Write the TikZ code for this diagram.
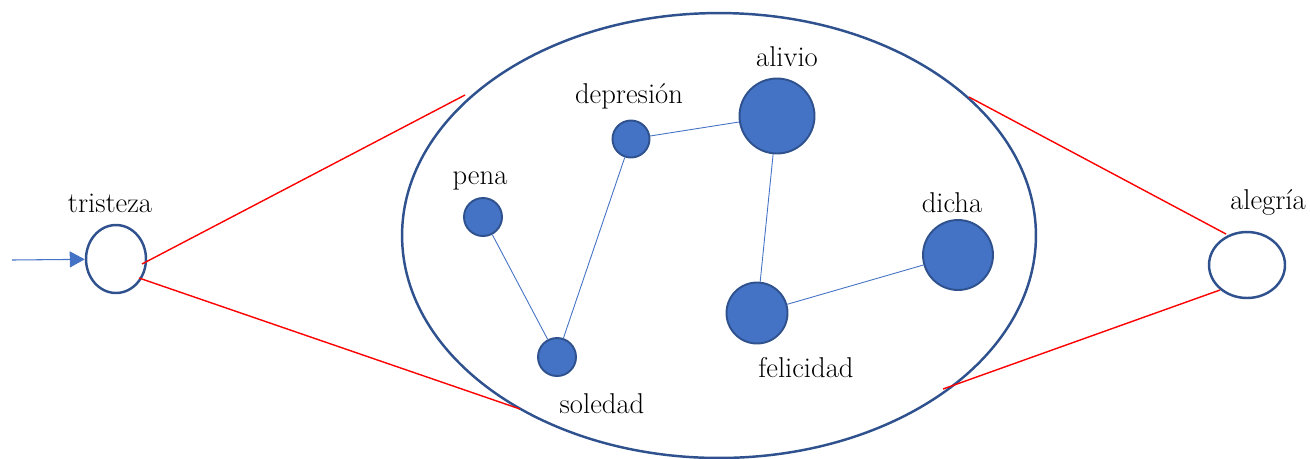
\documentclass[tikz,border=0pt]{standalone}
\usepackage{xcolor}
\usetikzlibrary{shapes.geometric, arrows.meta, positioning}
\definecolor{OfficeBlue}{RGB}{68, 114, 196}
\definecolor{OfficeEdge}{RGB}{47, 82, 143}
\definecolor{LinkRed}{RGB}{255, 0, 0}

\begin{document}
\begin{tikzpicture}[
    x=0.02cm, y=-0.02cm,
    font=\rmfamily\fontsize{16.3}{19}\selectfont,
    state/.style={ellipse, draw=OfficeEdge, line width=1.4pt, fill=white, inner sep=0pt},
    emo/.style={circle, draw=OfficeEdge, line width=1.1pt, fill=OfficeBlue, inner sep=0pt},
    word/.style={inner sep=0pt, anchor=center},
    link/.style={draw=OfficeBlue, line width=0.5pt},
    zoomline/.style={draw=LinkRed, line width=0.8pt},
    arr/.style={-{Triangle[length=0.3cm, width=0.32cm]}, draw=OfficeBlue, line width=0.6pt}
]
\useasboundingbox (0,0) rectangle (1310,458);

% main cloud of words
\node[state, minimum width=12.68cm, minimum height=8.9cm] (cloud) at (719,235.5) {};

% end states
\node[state, minimum width=1.2cm, minimum height=1.36cm] (tristeza) at (116,259) {};
\node[state, minimum width=1.52cm, minimum height=1.32cm] (alegria) at (1247,265) {};
\node[word] (lbl_tristeza) at (110,203) {tristeza};
\node[word] (lbl_alegria) at (1268,202) {alegría};

% words inside
\node[emo, minimum size=0.76cm] (pena) at (483,217) {};
\node[emo, minimum size=0.76cm] (soledad) at (557,357) {};
\node[emo, minimum size=0.74cm] (depresion) at (631,139) {};
\node[emo, minimum size=1.5cm] (alivio) at (777,116) {};
\node[emo, minimum size=1.22cm] (felicidad) at (757,313) {};
\node[emo, minimum size=1.4cm] (dicha) at (958,255) {};

\node[word] (lbl_pena) at (480,181) {pena};
\node[word] (lbl_soledad) at (602,404) {soledad};
\node[word] (lbl_depresion) at (629,96) {depresión};
\node[word] (lbl_alivio) at (787,57) {alivio};
\node[word] (lbl_felicidad) at (806,368) {felicidad};
\node[word] (lbl_dicha) at (952,203) {dicha};

% zoom lines
\coordinate (t_up) at (142,264);
\coordinate (t_dn) at (139,278);
\coordinate (c_ul) at (465,95);
\coordinate (c_ll) at (520,409);
\coordinate (c_ur) at (969,97);
\coordinate (c_lr) at (943,389);
\coordinate (a_up) at (1226,234);
\coordinate (a_dn) at (1220,290);
\coordinate (start) at (12,260);

\draw[zoomline] (t_up) -- (c_ul);
\draw[zoomline] (t_dn) -- (c_ll);
\draw[zoomline] (c_ur) -- (a_up);
\draw[zoomline] (c_lr) -- (a_dn);

\draw[arr] (start) -- (tristeza);

\draw[link] (pena) -- (soledad);
\draw[link] (soledad) -- (depresion);
\draw[link] (depresion) -- (alivio);
\draw[link] (alivio) -- (felicidad);
\draw[link] (felicidad) -- (dicha);

\end{tikzpicture}
\end{document}
